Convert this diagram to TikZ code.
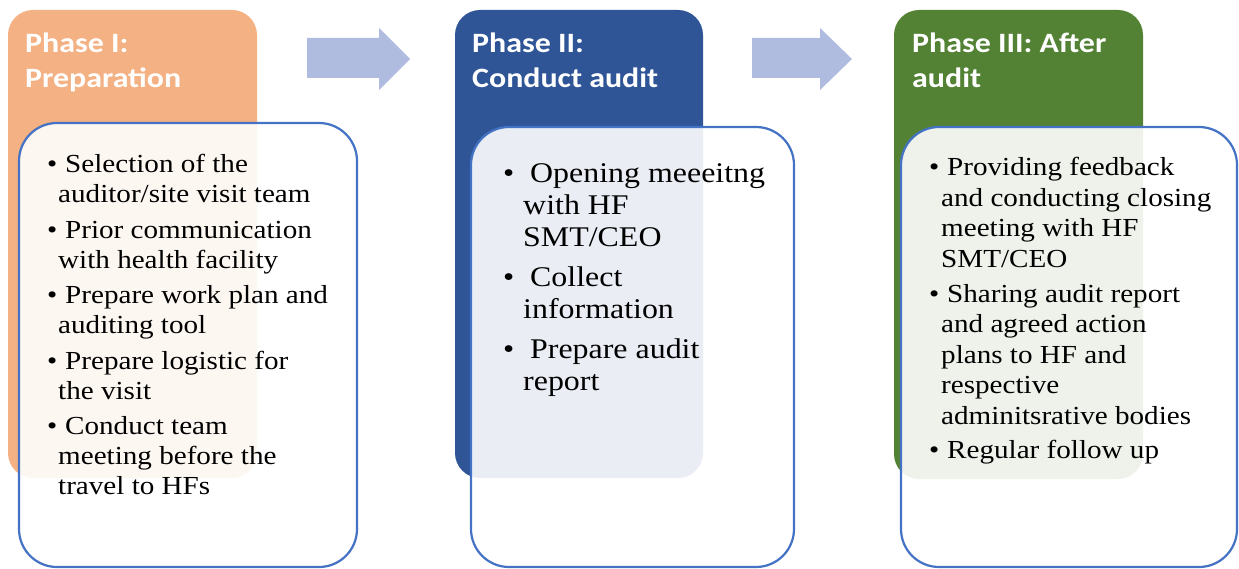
\documentclass[tikz,border=0pt]{standalone}
\usepackage{fontspec}
\setmainfont{Liberation Serif}[FakeStretch=1.12]
\newfontfamily\titlefont{Carlito}[FakeStretch=1.14]
\definecolor{orangeph}{HTML}{F4B183}
\definecolor{blueph}{HTML}{2F5597}
\definecolor{greenph}{HTML}{548235}
\definecolor{boxline}{HTML}{4472C4}
\definecolor{arrowc}{HTML}{AFBCE0}
\newcommand\bul[2]{\makebox[0pt][l]{\hspace*{#1}\textbullet}\hspace*{#2}}
\begin{document}
\begin{tikzpicture}[x=1pt,y=-1pt,
  phasebox/.style={rounded corners=25pt},
  bodybox/.style={draw=boxline, line width=2.2pt, fill=white, fill opacity=0.9, rounded corners=38pt},
  title/.style={anchor=base west, inner sep=0pt, text=white, font=\titlefont\bfseries\fontsize{28}{35}\selectfont},
  bodytext/.style={anchor=base west, inner sep=0pt, text=black},
  blockarrow/.style={fill=arrowc}]
\useasboundingbox (0,0) rectangle (1239,569);
% phase backgrounds
\fill[phasebox, orangeph] (8,10) rectangle (257,478);
\fill[phasebox, blueph] (455,10) rectangle (703,478);
\fill[phasebox, greenph] (894,10) rectangle (1143,479);
% titles
\node[title] (t1) at (25,53) {\parbox[t]{230pt}{\raggedright Phase I:\\Preparation}};
\node[title] (t2) at (472,53) {\parbox[t]{230pt}{\raggedright Phase II:\\Conduct audit}};
\node[title] (t3) at (912,53) {\parbox[t]{230pt}{\raggedright Phase III: After\\audit}};
% block arrows
\fill[blockarrow] (307,38) -- (379,38) -- (379,28) -- (410,59) -- (379,90) -- (379,78) -- (307,78) -- cycle;
\fill[blockarrow] (752,38) -- (820,38) -- (820,28) -- (852,59) -- (820,90) -- (820,78) -- (752,78) -- cycle;
% body boxes
\path[bodybox] (19,123) rectangle (357,567);
\path[bodybox] (471,127) rectangle (794,567);
\path[bodybox] (901,127) rectangle (1237,567);
% body texts
\node[bodytext, font=\fontsize{26}{30}\selectfont] (b1) at (58,173) {\parbox[t]{300pt}{\raggedright
\bul{-11pt}{7pt}Selection of the\\
auditor/site visit team\\[5.5pt]
\bul{-11pt}{7pt}Prior communication\\
with health facility\\[5.5pt]
\bul{-11pt}{7pt}Prepare work plan and\\
auditing tool\\[5.5pt]
\bul{-11pt}{7pt}Prepare logistic for\\
the visit\\[5.5pt]
\bul{-11pt}{7pt}Conduct team\\
meeting before the\\
travel to HFs}};
\node[bodytext, font=\fontsize{28.5}{32}\selectfont] (b2) at (523,183) {\parbox[t]{270pt}{\raggedright
\bul{-20pt}{7pt}Opening meeeitng\\
with HF\\
SMT/CEO\\[8pt]
\bul{-20pt}{7pt}Collect\\
information\\[8pt]
\bul{-20pt}{7pt}Prepare audit\\
report}};
\node[bodytext, font=\fontsize{26}{30.5}\selectfont] (b3) at (941,176) {\parbox[t]{290pt}{\raggedright
\bul{-12pt}{6pt}Providing feedback\\
and conducting closing\\
meeting with HF\\
SMT/CEO\\[4.25pt]
\bul{-12pt}{6pt}Sharing audit report\\
and agreed action\\
plans to HF and\\
respective\\
adminitsrative bodies\\[4.25pt]
\bul{-12pt}{6pt}Regular follow up}};
\end{tikzpicture}
\end{document}
